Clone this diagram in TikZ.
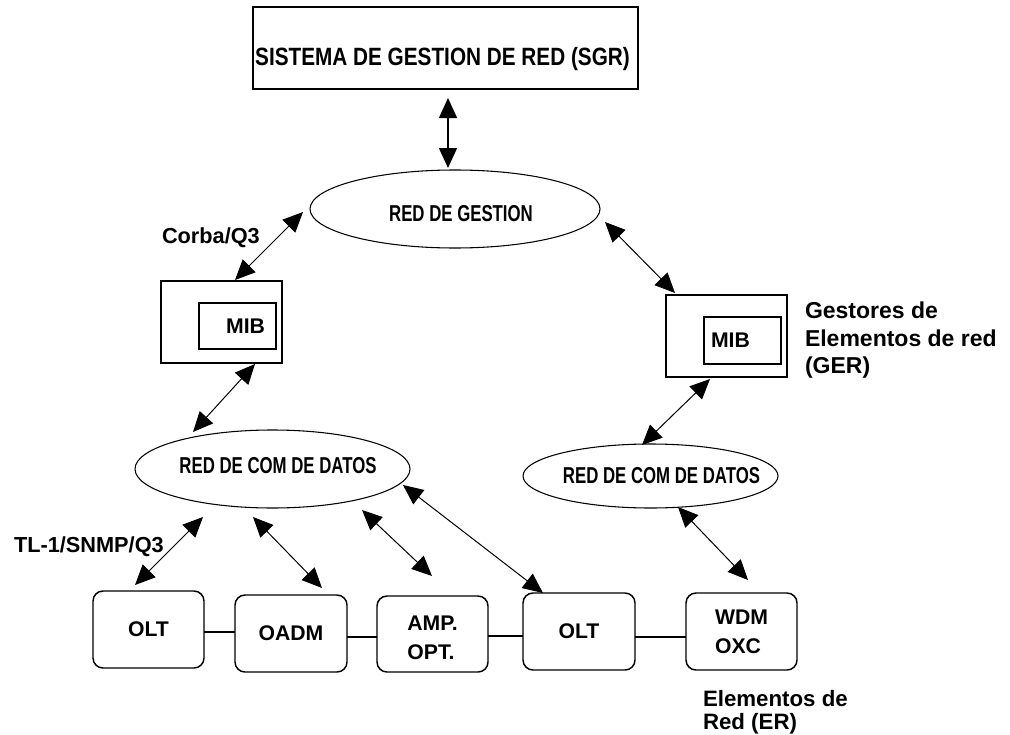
\documentclass[tikz,border=0pt]{standalone}
\usepackage{fontspec}
\setmainfont{Liberation Sans}
\usepackage{graphicx}
\usetikzlibrary{arrows.meta,shapes.geometric,calc}
\newcommand\pxu{0.75pt}
\begin{document}
\begin{tikzpicture}[x=0.75pt,y=-0.75pt,
  every node/.style={inner sep=0pt, outer sep=0pt},
  plainbox/.style={draw, rectangle, line width=1.2pt},
  elem/.style={draw, rectangle, line width=1.1pt, rounded corners=7.5pt,
    minimum width=111*\pxu, minimum height=77*\pxu, align=left,
    font=\bfseries\fontsize{15.9pt}{21.75pt}\selectfont},
  cloud/.style={draw, ellipse, line width=0.8pt},
  cloudtext/.style={anchor=base, font=\bfseries\fontsize{17.25pt}{20pt}\selectfont},
  lbl/.style={font=\bfseries\fontsize{16.3pt}{20pt}\selectfont},
  biarrow/.style={{Triangle[length=15pt,width=13.5pt]}-{Triangle[length=15pt,width=13.5pt]}, line width=0.75pt},
  link/.style={line width=0.9pt}
]
\useasboundingbox (0,0) rectangle (1010,735);

% top system
\node[plainbox, minimum width=385*\pxu, minimum height=82*\pxu] (sgr) at (445.5,48) {};
\node[anchor=base, font=\bfseries\fontsize{18.75pt}{22pt}\selectfont] (sgrtext) at (442.5,66)
  {\scalebox{0.83}[1]{SISTEMA DE GESTION DE RED (SGR)}};

% management network
\node[cloud, minimum width=290*\pxu, minimum height=78*\pxu] (gest) at (455,209) {};
\node[cloudtext] (gesttext) at (461,221) {\scalebox{0.73}[1]{RED DE GESTION}};

% element managers
\node[plainbox, minimum width=121*\pxu, minimum height=82*\pxu] (mibL) at (221.5,322) {};
\node[plainbox, line width=1pt, minimum height=46*\pxu, inner xsep=11*\pxu, text width=55*\pxu,
  align=right, font=\bfseries\fontsize{15.9pt}{19pt}\selectfont] (mibLi) at (237.5,326) {MIB};
\node[plainbox, minimum width=121*\pxu, minimum height=82*\pxu] (mibR) at (726.5,336) {};
\node[plainbox, line width=1pt, minimum height=47*\pxu, inner xsep=7*\pxu, text width=63*\pxu,
  align=left, font=\bfseries\fontsize{15.9pt}{19pt}\selectfont] (mibRi) at (742.5,340.5) {MIB};

% data communication networks
\node[cloud, minimum width=275*\pxu, minimum height=78*\pxu] (comL) at (272.5,469) {};
\node[cloudtext] (comLtext) at (278,473) {\scalebox{0.73}[1]{RED DE COM DE DATOS}};
\node[cloud, minimum width=255*\pxu, minimum height=64*\pxu] (comR) at (650.5,476) {};
\node[cloudtext] (comRtext) at (661.5,483) {\scalebox{0.73}[1]{RED DE COM DE DATOS}};

% network elements
\node[elem] (olt1) at (148.5,629.5) {OLT};
\node[elem, minimum width=112*\pxu] (oadm) at (291,633.5) {OADM};
\node[elem, minimum height=76*\pxu] (amp) at (432.5,634) {\raisebox{-3pt}[\height][\depth]{AMP.}\\\raisebox{-3pt}[\height][\depth]{OPT.}};
\node[elem, minimum width=112*\pxu] (olt2) at (579,631.5) {OLT};
\node[elem] (wdm) at (741.5,631.5) {WDM\\OXC};

% labels
\node[lbl, anchor=base west] (corba) at (162,243) {Corba/Q3};
\node[lbl, anchor=base west] (tl1) at (14,552) {TL-1/SNMP/Q3};
\node[anchor=north west, align=left, font=\bfseries\fontsize{17.25pt}{20.6pt}\selectfont] (ger) at (805,302)
  {Gestores de\\Elementos de red\\(GER)};
\node[anchor=north west, align=left, font=\bfseries\fontsize{16.7pt}{17.5pt}\selectfont] (er) at (703,690)
  {Elementos de\\Red (ER)};

% connectors
\draw[biarrow, line width=1.1pt] ($(sgr.south)+(2.5,9)$) -- ($(gest.north)+(-7,-2)$);
\draw[biarrow] ($(mibL.north)+(13.5,-1)$) -- ($(gest.west)+(-7,3)$);
\draw[biarrow] ($(mibL.south)+(33.5,1)$) -- ($(comL.north)+(-79.5,2)$);
\draw[biarrow] ($(gest.east)+(5,13)$) -- ($(mibR.north)+(-51.5,-2)$);
\draw[biarrow] ($(mibR.south)+(-16.5,2)$) -- ($(comR.north)+(-8.5,1)$);
\draw[biarrow] ($(comR.south)+(27.5,-1)$) -- ($(wdm.north)+(6.5,-13)$);
\draw[biarrow] ($(comL.south)+(-69.5,9)$) -- ($(olt1.north)+(-13.5,-6)$);
\draw[biarrow] ($(comL.south)+(-19.5,9)$) -- ($(oadm.north)+(31,-7)$);
\draw[biarrow] ($(comL.south)+(89.5,2)$) -- ($(amp.north)+(-0.5,-20)$);
\draw[biarrow] ($(comL.east)+(-7,16)$) -- ($(olt2.north)+(-36,0)$);

% links between elements
\draw[link] ($(olt1.east)+(0,2.5)$) -- ($(olt1.east -| oadm.west)+(0,2.5)$);
\draw[link] ($(oadm.east)+(0,3.5)$) -- ($(oadm.east -| amp.west)+(0,3.5)$);
\draw[link] ($(amp.east)+(0,2)$) -- ($(amp.east -| olt2.west)+(0,2)$);
\draw[link] ($(olt2.east)+(0,5.5)$) -- ($(olt2.east -| wdm.west)+(0,5.5)$);
\end{tikzpicture}
\end{document}
